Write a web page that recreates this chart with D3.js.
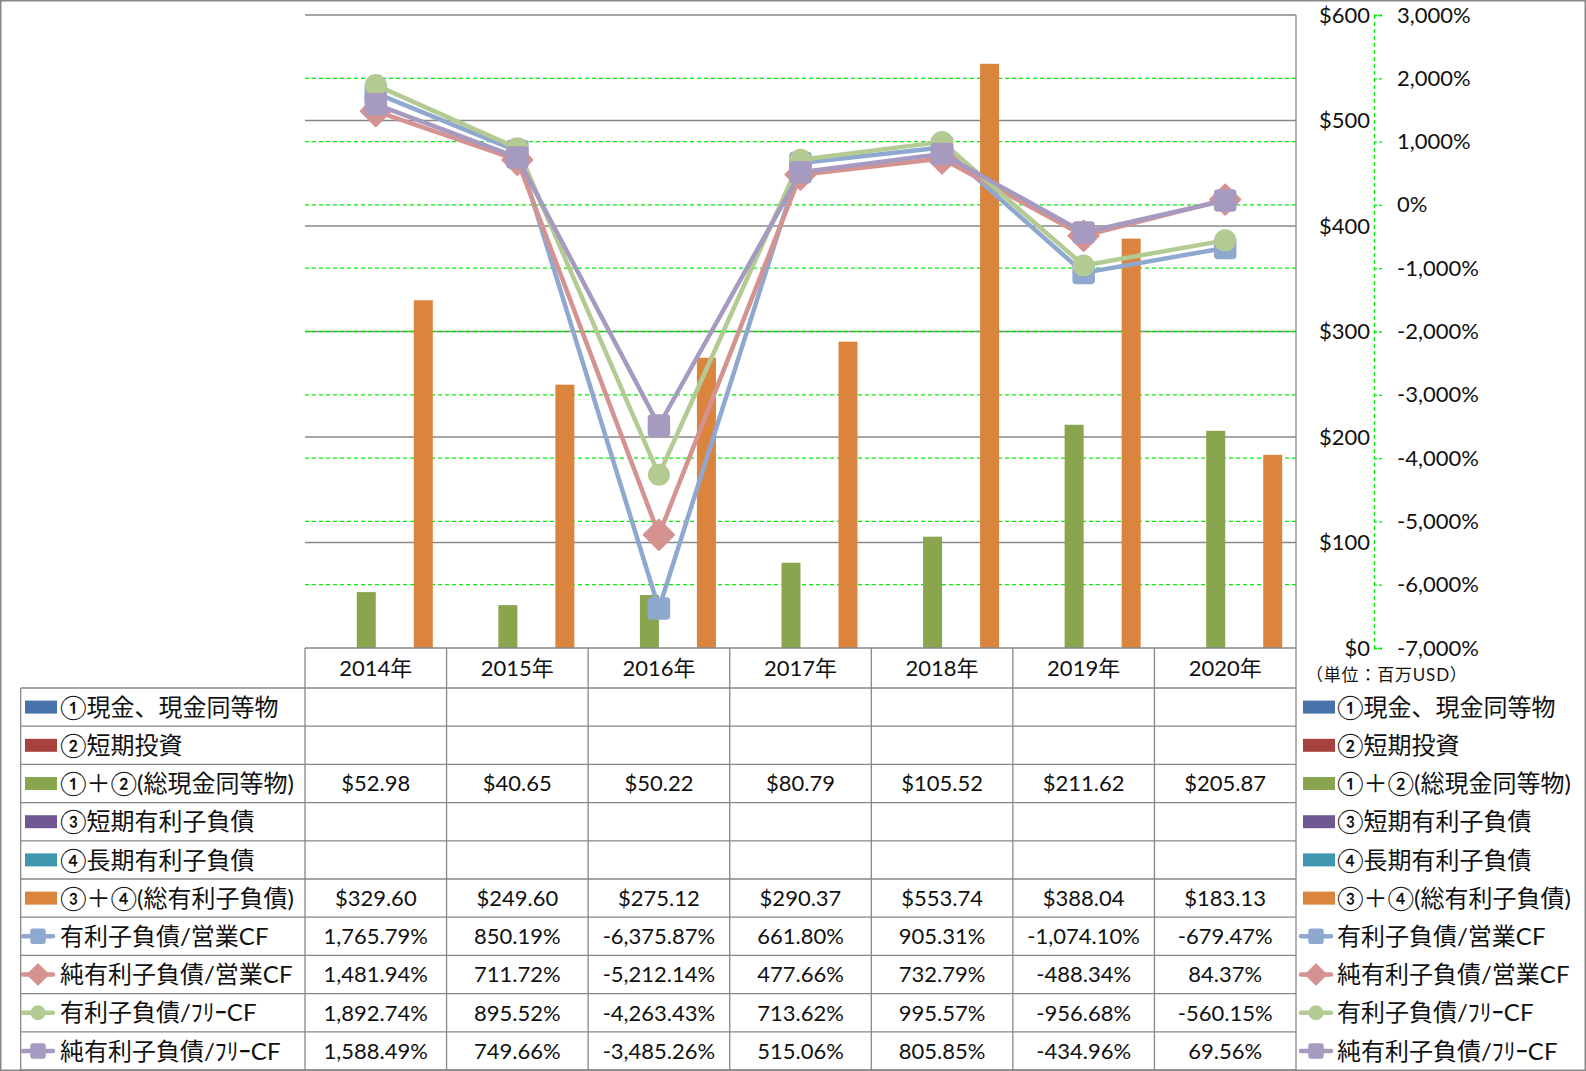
<!DOCTYPE html>
<html><head><meta charset="utf-8">
<script src="https://cdn.jsdelivr.net/npm/d3@7"></script>
<style>
html,body{margin:0;padding:0;background:#fff;}
svg{display:block;}
text{font-family:"Lato","Noto Sans CJK JP",sans-serif;fill:#111;}
</style></head>
<body>
<svg id="c" width="1586" height="1071"></svg>
<script>
// ---------- data ----------
const years = ["2014年","2015年","2016年","2017年","2018年","2019年","2020年"];
const barNames = ["①現金、現金同等物","②短期投資","①＋②(総現金同等物)","③短期有利子負債","④長期有利子負債","③＋④(総有利子負債)"];
const cash        = [null,null,null,null,null,null,null];
const shortInv    = [null,null,null,null,null,null,null];
const totalCash   = [52.98,40.65,50.22,80.79,105.52,211.62,205.87];
const shortDebt   = [null,null,null,null,null,null,null];
const longDebt    = [null,null,null,null,null,null,null];
const totalDebt   = [329.60,249.60,275.12,290.37,553.74,388.04,183.13];
const lineNames = ["有利子負債/営業CF","純有利子負債/営業CF","有利子負債/ﾌﾘｰCF","純有利子負債/ﾌﾘｰCF"];
const debtOpCF    = [1765.79,850.19,-6375.87,661.80,905.31,-1074.10,-679.47];
const netDebtOpCF = [1481.94,711.72,-5212.14,477.66,732.79,-488.34,84.37];
const debtFCF     = [1892.74,895.52,-4263.43,713.62,995.57,-956.68,-560.15];
const netDebtFCF  = [1588.49,749.66,-3485.26,515.06,805.85,-434.96,69.56];
const usdTicks = [0,100,200,300,400,500,600];
const pctTicks = [-7000,-6000,-5000,-4000,-3000,-2000,-1000,0,1000,2000,3000];
const unitLabel = "（単位：百万USD）";

// ---------- setup ----------
const barValues = [cash,shortInv,totalCash,shortDebt,longDebt,totalDebt];
const barColors = ["#4672A9","#A8423F","#89A54E","#6F5892","#3F96AF","#DB843D"];
const lineValues = [debtOpCF,netDebtOpCF,debtFCF,netDebtFCF];
const lineColors = ["#8EA8D0","#D49290","#B3CB92","#A69AC0"];
const markers = ["square","diamond","circle","square"];

const svg = d3.select("#c");
const L=305, R=1296, T=15, B=648, TB=688, TE=1070;
const loc = d3.formatLocale({decimal:".",thousands:",",grouping:[3],currency:["$",""],minus:"-"});
const fUsd = loc.format("$,.2f"), fPct = v => loc.format(",.2f")(v)+"%", fAxPct = v => loc.format(",")(v)+"%";

const x = d3.scaleBand().domain(years).range([L,R]);
const xs = d3.scaleBand().domain(barNames).range([0,x.bandwidth()]).paddingInner(0).paddingOuter(0.725);
const y = d3.scaleLinear().domain([0,600]).range([B,T]);
const y2 = d3.scaleLinear().domain([-7000,3000]).range([B,T]);
const rowNames = barNames.concat(lineNames);
const ry = d3.scaleBand().domain(rowNames).range([TB,TE]);

const gray = "#878787";

// outer border
svg.append("rect").attr("x",0.75).attr("y",0.75).attr("width",1584.5).attr("height",1069.5)
  .attr("fill","none").attr("stroke",gray).attr("stroke-width",1.5);

// gridlines
svg.append("g").selectAll("line").data(usdTicks.filter(d=>d>0)).join("line")
  .attr("x1",L).attr("x2",R).attr("y1",d=>y(d)).attr("y2",d=>y(d))
  .attr("stroke",gray).attr("stroke-width",1.3);
svg.append("g").selectAll("line").data(pctTicks.filter(d=>d>-7000&&d<3000)).join("line")
  .attr("x1",L).attr("x2",R).attr("y1",d=>y2(d)).attr("y2",d=>y2(d))
  .attr("stroke","#00EE00").attr("stroke-width",1.3).attr("stroke-dasharray","4,3");

// bars
const gb = svg.append("g");
barValues.forEach((vals,si)=>{
  gb.append("g").selectAll("rect").data(vals.map((v,i)=>({v,i})).filter(d=>d.v!=null)).join("rect")
    .attr("x",d=>x(years[d.i])+xs(barNames[si])).attr("width",xs.bandwidth())
    .attr("y",d=>y(d.v)).attr("height",d=>y(0)-y(d.v)).attr("fill",barColors[si]);
});

// primary axis (labels only)
const ax1 = svg.append("g").attr("transform",`translate(1374,0)`)
  .call(d3.axisLeft(y).tickValues(usdTicks).tickSize(0).tickPadding(4).tickFormat(d=>"$"+d));
ax1.select(".domain").remove();
ax1.selectAll("text").attr("font-size",22).attr("font-family","Lato").attr("fill","#111");

// secondary axis
const ax2 = svg.append("g").attr("transform",`translate(1374,0)`)
  .call(d3.axisRight(y2).tickValues(pctTicks).tickSize(8).tickPadding(15).tickFormat(fAxPct));
ax2.select(".domain").attr("stroke","#00EE00").attr("stroke-width",1.3).attr("stroke-dasharray","4,3");
ax2.selectAll(".tick line").attr("stroke","#00EE00").attr("stroke-width",1.3).attr("stroke-dasharray","3,2");
ax2.selectAll("text").attr("font-size",22).attr("font-family","Lato").attr("fill",d=>d<0?"#FF0000":"#111");

svg.append("text").attr("x",1306).attr("y",675).attr("dy","0.35em").attr("font-size",17)
  .attr("letter-spacing",0.8).attr("fill","#111").text(unitLabel);

// table lines
const tl = svg.append("g").attr("stroke",gray).attr("stroke-width",1.3);
tl.append("line").attr("x1",L).attr("x2",R).attr("y1",B).attr("y2",B);
rowNames.forEach(n=>{ tl.append("line").attr("x1",20.7).attr("x2",R).attr("y1",ry(n)).attr("y2",ry(n)); });
tl.append("line").attr("x1",20.7).attr("x2",R).attr("y1",TE).attr("y2",TE);
tl.append("line").attr("x1",20.7).attr("x2",20.7).attr("y1",TB).attr("y2",TE);
years.forEach(yr=>{ tl.append("line").attr("x1",x(yr)).attr("x2",x(yr)).attr("y1",B).attr("y2",TE); });
tl.append("line").attr("x1",R).attr("x2",R).attr("y1",T).attr("y2",TE);

// lines + markers
function marker(g,type,cx,cy,color,s){
  if(type==="square"){
    g.append("rect").attr("x",cx-s/2).attr("y",cy-s/2).attr("width",s).attr("height",s).attr("rx",s*0.14)
      .attr("fill",color).attr("stroke",color).attr("stroke-width",1.5);
  } else if(type==="diamond"){
    const r=s*0.72;
    g.append("path").attr("d",`M${cx},${cy-r}L${cx+r},${cy}L${cx},${cy+r}L${cx-r},${cy}Z`)
      .attr("fill",color).attr("stroke",color).attr("stroke-width",2).attr("stroke-linejoin","round");
  } else {
    g.append("circle").attr("cx",cx).attr("cy",cy).attr("r",s/2+0.5).attr("fill",color);
  }
}
const lg = d3.line().x((d,i)=>x(years[i])+x.bandwidth()/2).y(d=>y2(d));
lineValues.forEach((vals,si)=>{
  const g = svg.append("g");
  g.append("path").datum(vals).attr("d",lg).attr("fill","none").attr("stroke",lineColors[si])
    .attr("stroke-width",4.5).attr("stroke-linejoin","round").attr("stroke-linecap","round");
  vals.forEach((v,i)=>marker(g,markers[si],x(years[i])+x.bandwidth()/2,y2(v),lineColors[si],21));
});

// header labels
svg.append("g").selectAll("text").data(years).join("text")
  .attr("x",d=>x(d)+x.bandwidth()/2).attr("y",(B+TB)/2).attr("dy","0.36em")
  .attr("text-anchor","middle").attr("font-size",22).text(d=>d);

// legend keys + names (left and right)
function legendKey(g,idx,kx,cy){
  if(idx<6){
    g.append("rect").attr("x",kx).attr("y",cy-6.5).attr("width",32).attr("height",13).attr("fill",barColors[idx]);
  } else {
    const li=idx-6;
    g.append("line").attr("x1",kx-2).attr("x2",kx+28).attr("y1",cy).attr("y2",cy)
      .attr("stroke",lineColors[li]).attr("stroke-width",4.5).attr("stroke-linecap","round");
    marker(g,markers[li],kx+13,cy,lineColors[li],14);
  }
}
rowNames.forEach((n,idx)=>{
  const cy = ry(n)+ry.bandwidth()/2;
  const g = svg.append("g");
  legendKey(g,idx,25,cy);
  g.append("text").attr("x",60).attr("y",cy).attr("dy","0.36em").attr("font-size",24).text(n);
  legendKey(g,idx,1303,cy);
  g.append("text").attr("x",1337).attr("y",cy).attr("dy","0.36em").attr("font-size",24).text(n);
});

// table values
const allValues = barValues.concat(lineValues);
allValues.forEach((vals,idx)=>{
  const cy = ry(rowNames[idx])+ry.bandwidth()/2;
  svg.append("g").selectAll("text").data(vals.map((v,i)=>({v,i})).filter(d=>d.v!=null)).join("text")
    .attr("x",d=>x(years[d.i])+x.bandwidth()/2).attr("y",cy).attr("dy","0.36em")
    .attr("text-anchor","middle").attr("font-size",22)
    .text(d=>idx<6?fUsd(d.v):fPct(d.v));
});
</script>
</body></html>
